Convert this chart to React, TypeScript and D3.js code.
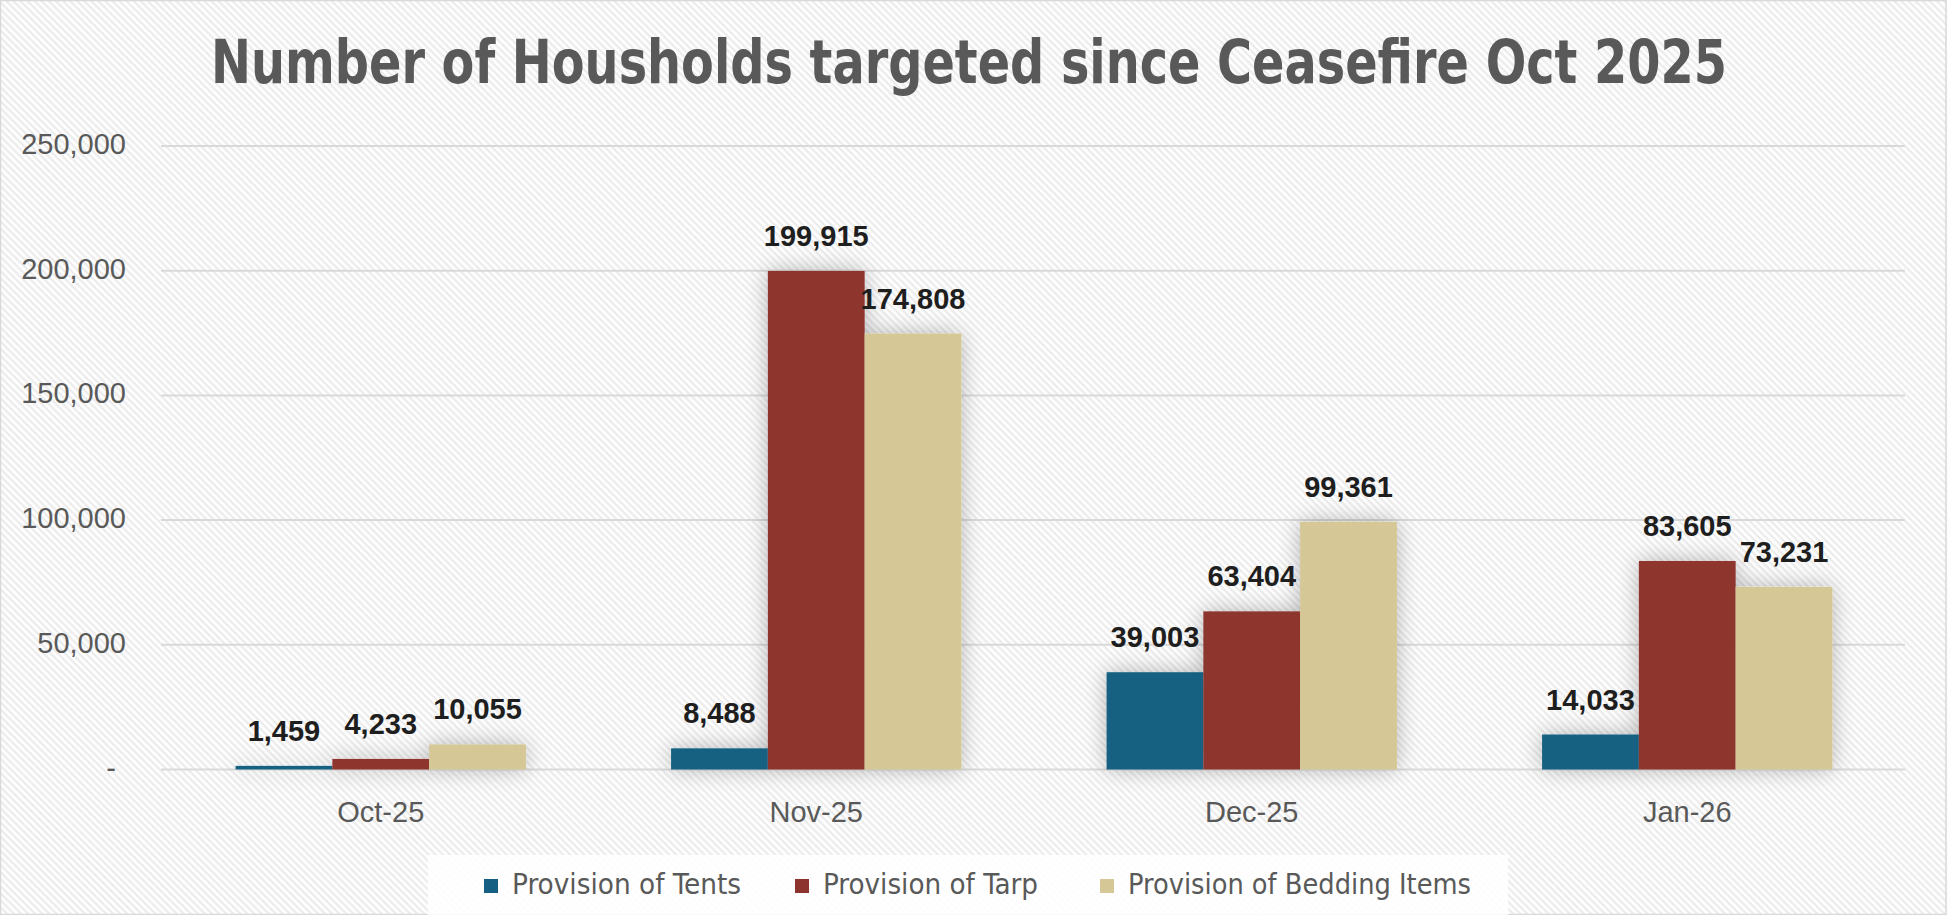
import React from "react";
import * as d3 from "d3";

const categories = ["Oct-25", "Nov-25", "Dec-25", "Jan-26"];
const seriesNames = ["Provision of Tents", "Provision of Tarp", "Provision of Bedding Items"];
const tents = [1459, 8488, 39003, 14033];
const tarp = [4233, 199915, 63404, 83605];
const bedding = [10055, 174808, 99361, 73231];
const seriesColors = ["#156082", "#8e342f", "#d5c896"];
const yTicks = [0, 50000, 100000, 150000, 200000, 250000];
const titleText = "Number of Housholds targeted since Ceasefire Oct 2025";

const W = 1947;
const H = 915;
const plot = { left: 163, right: 1905, top: 146, bottom: 769.5 };

export default function App() {
  const series = [tents, tarp, bedding];
  const x0 = d3
    .scaleBand<string>()
    .domain(categories)
    .range([plot.left, plot.right])
    .paddingInner(1 / 3)
    .paddingOuter(1 / 6);
  const x1 = d3
    .scaleBand<number>()
    .domain([0, 1, 2])
    .range([0, x0.bandwidth()])
    .padding(0);
  const y = d3.scaleLinear().domain([0, 250000]).range([plot.bottom, plot.top]);
  const fmt = d3.format(",");

  const legendX = [484, 795, 1100];
  const legendTextW = [229, 215, 343];

  return (
    <svg
      width={W}
      height={H}
      viewBox={`0 0 ${W} ${H}`}
      style={{ position: "absolute", left: 0, top: 0, display: "block" }}
    >
      <defs>
        <pattern
          id="stripes"
          width="5"
          height="5"
          patternUnits="userSpaceOnUse"
          patternTransform="rotate(45)"
        >
          <rect width="5" height="5" fill="#ffffff" />
          <rect width="5" height="2.4" fill="#ececec" />
        </pattern>
        <filter id="barShadow" x="-40%" y="-40%" width="180%" height="180%">
          <feGaussianBlur in="SourceAlpha" stdDeviation="11" />
          <feComponentTransfer>
            <feFuncA type="linear" slope="0.28" />
          </feComponentTransfer>
          <feMerge>
            <feMergeNode />
            <feMergeNode in="SourceGraphic" />
          </feMerge>
        </filter>
      </defs>

      <rect x={0} y={0} width={W} height={H} fill="url(#stripes)" />
      <rect x={0.5} y={0.5} width={W - 1.5} height={H - 1} fill="none" stroke="#d9d9d9" strokeWidth={1.5} />

      <text
        x={(211 + 1727) / 2}
        y={83}
        textAnchor="middle"
        fontFamily="'Liberation Sans Narrow', 'Arial Narrow', 'DejaVu Sans Condensed', sans-serif"
        fontWeight="bold"
        fontSize={61}
        fill="#595959"
        textLength={1516}
        lengthAdjust="spacingAndGlyphs"
      >
        {titleText}
      </text>

      {/* gridlines */}
      {yTicks.map((t) => (
        <line
          key={"g" + t}
          x1={plot.left - 2}
          x2={plot.right}
          y1={y(t)}
          y2={y(t)}
          stroke="#d9d9d9"
          strokeWidth={2}
        />
      ))}

      {/* y tick labels */}
      {yTicks.map((t) => (
        <text
          key={"yl" + t}
          x={t === 0 ? 116 : 126}
          y={y(t) + 8}
          textAnchor="end"
          fontFamily="'Liberation Sans', Arial, sans-serif"
          fontSize={29}
          fill="#595959"
        >
          {t === 0 ? "-" : fmt(t)}
        </text>
      ))}

      {/* bars */}
      <g filter="url(#barShadow)">
        {categories.map((c, ci) =>
          series.map((s, si) => (
            <rect
              key={c + si}
              x={(x0(c) as number) + (x1(si) as number)}
              y={y(s[ci])}
              width={x1.bandwidth()}
              height={plot.bottom - y(s[ci])}
              fill={seriesColors[si]}
            />
          ))
        )}
      </g>

      {/* data labels */}
      {categories.map((c, ci) =>
        series.map((s, si) => (
          <text
            key={"dl" + c + si}
            x={(x0(c) as number) + (x1(si) as number) + x1.bandwidth() / 2}
            y={y(s[ci]) - 25}
            textAnchor="middle"
            fontFamily="'Liberation Sans', Arial, sans-serif"
            fontWeight="bold"
            fontSize={29}
            fill="#1e1e1e"
          >
            {fmt(s[ci])}
          </text>
        ))
      )}

      {/* x tick labels */}
      {categories.map((c) => (
        <text
          key={"xl" + c}
          x={(x0(c) as number) + x0.bandwidth() / 2}
          y={822}
          textAnchor="middle"
          fontFamily="'Liberation Sans', Arial, sans-serif"
          fontSize={29}
          fill="#595959"
        >
          {c}
        </text>
      ))}

      {/* legend */}
      <rect x={428} y={855} width={1080} height={62} fill="#ffffff" fillOpacity={0.88} />
      {seriesNames.map((n, i) => (
        <g key={"lg" + i}>
          <rect x={legendX[i]} y={879} width={14} height={14} fill={seriesColors[i]} />
          <text
            x={legendX[i] + 28}
            y={894}
            fontFamily="'Liberation Sans Narrow', 'Arial Narrow', 'DejaVu Sans Condensed', sans-serif"
            fontSize={29}
            fill="#595959"
            textLength={legendTextW[i]}
            lengthAdjust="spacingAndGlyphs"
          >
            {n}
          </text>
        </g>
      ))}
    </svg>
  );
}
